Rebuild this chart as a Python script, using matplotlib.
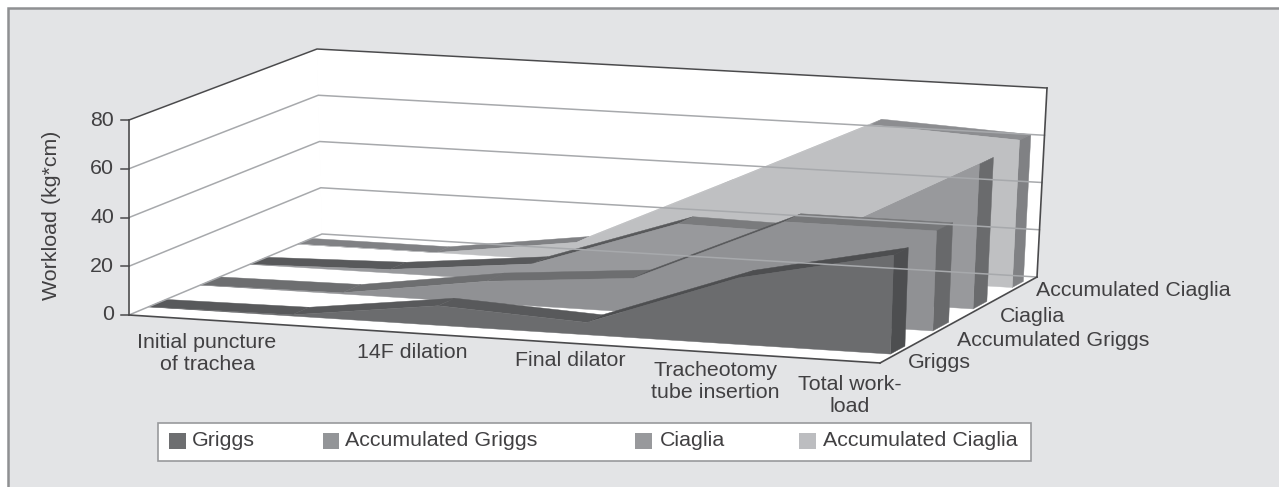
import numpy as np
import matplotlib
matplotlib.use("Agg")
import matplotlib.pyplot as plt
from matplotlib.patches import Polygon, Rectangle

plt.rcParams['font.family'] = ['Liberation Sans', 'DejaVu Sans']

# ---- data ----
series_names = ["Griggs", "Accumulated Griggs", "Ciaglia", "Accumulated Ciaglia"]
griggs = [0, 0.5, 8, 5, 27, 40]
accumulated_griggs = [0, 0.5, 9, 14, 41, 41]
ciaglia = [0, 1.5, 7.5, 28, 27, 60]
accumulated_ciaglia = [0, 0, 8, 36, 65, 62]
category_labels = ["Initial puncture\nof trachea", "14F dilation", "Final dilator",
                   "Tracheotomy\ntube insertion", "Total work-\nload"]
y_ticks = [0, 20, 40, 60, 80]
y_max = 80

# ---- styles / layout ----
BG = "#e3e4e6"
TXT = "#414042"
GRID = "#a7a9ac"
AXC = "#4a4a4c"
face = ["#6b6c6e", "#909194", "#98999c", "#bfc0c2"]
top_segments = [
    ["#58595b", "#58595b", "#58595b", "#4d4e50", "#4d4e50"],
    ["#6d6e70", "#6d6e70", "#6d6e70", "#58595b", "#77787a"],
    ["#58595b", "#58595b", "#58595b", "#7a7b7d", "#98999c"],
    ["#808184", "#808184", "#bfc0c2", "#bfc0c2", "#8c8d90"],
]
side = ["#4d4e50", "#68696b", "#6a6b6d", "#808184"]
legend_col = ["#6d6e70", "#939598", "#98999c", "#bcbdc0"]
FS = 15.4

# projection: corners of the box in pixel space (u along categories, v in depth)
floor_c = np.array([[129, 315], [880, 363], [1037, 277], [322, 234]], float)
ceil_c = np.array([[129, 120], [886, 164], [1047, 88], [317, 49]], float)


def bilinear(c, u, v):
    return (1 - u) * (1 - v) * c[0] + u * (1 - v) * c[1] + u * v * c[2] + (1 - u) * v * c[3]


def proj(u, v, val):
    w = val / y_max
    return (1 - w) * bilinear(floor_c, u, v) + w * bilinear(ceil_c, u, v)


fig = plt.figure(figsize=(12.79, 4.87), dpi=100, facecolor="white")
ax = fig.add_axes([0, 0, 1, 1])
ax.set_xlim(0, 1279)
ax.set_ylim(487, 0)
ax.axis("off")

# panel
ax.add_patch(Rectangle((8, 8), 1290, 500, fc=BG, ec="#8f9092", lw=1.8))

# walls and floor
pf = lambda u, v: proj(u, v, 0)
pc = lambda u, v: proj(u, v, y_max)
for poly in ([pf(0, 0), pf(1, 0), pf(1, 1), pf(0, 1)],
             [pf(0, 0), pf(0, 1), pc(0, 1), pc(0, 0)],
             [pf(0, 1), pf(1, 1), pc(1, 1), pc(0, 1)]):
    ax.add_patch(Polygon(poly, fc="white", ec="white", lw=0.8))

for t in y_ticks:
    a, b, c = proj(0, 0, t), proj(0, 1, t), proj(1, 1, t)
    col = GRID if t != y_max else AXC
    ax.plot([a[0], b[0], c[0]], [a[1], b[1], c[1]], color=col, lw=1.1, solid_joinstyle="miter")
    ax.plot([a[0] - 8, a[0]], [a[1], a[1]], color=AXC, lw=1.1)
    ax.text(a[0] - 15, a[1], str(t), ha="right", va="center", fontsize=FS, color=TXT)

# series, back to front
all_series = [griggs, accumulated_griggs, ciaglia, accumulated_ciaglia]
v_front = [0.10, 0.369, 0.625, 0.874]
v_back = [0.192, 0.47, 0.713, 0.945]
for i in [3, 2, 1, 0]:
    vals = all_series[i]
    n = len(vals)
    s = np.arange(n) / (n - 1)
    us = (s - 0.04 * s * (1 - s)) * 0.993   # slight foreshortening along the axis
    v0, v1 = v_front[i], v_back[i]
    for k in range(n - 1):
        col = top_segments[i][k]
        ax.add_patch(Polygon([proj(us[k], v0, vals[k]), proj(us[k + 1], v0, vals[k + 1]),
                              proj(us[k + 1], v1, vals[k + 1]), proj(us[k], v1, vals[k])],
                             fc=col, ec=col, lw=0.3))
    ax.add_patch(Polygon([proj(us[-1], v0, 0), proj(us[-1], v1, 0),
                          proj(us[-1], v1, vals[-1]), proj(us[-1], v0, vals[-1])],
                         fc=side[i], ec=side[i], lw=0.3))
    outline = [proj(us[0], v0, 0)] + [proj(u, v0, x) for u, x in zip(us, vals)] + [proj(us[-1], v0, 0)]
    ax.add_patch(Polygon(outline, fc=face[i], ec=face[i], lw=0.3))

# axis edges
for p, q in [(proj(0, 0, 0), proj(0, 0, y_max)), (proj(0, 0, 0), proj(1, 0, 0)),
             (proj(1, 0, 0), proj(1, 1, 0)), (proj(1, 1, 0), proj(1, 1, y_max))]:
    ax.plot([p[0], q[0]], [p[1], q[1]], color=AXC, lw=1.2)

# text
ax.text(52, 215, "Workload (kg*cm)", rotation=90, ha="center", va="center", fontsize=FS, color=TXT)
cat_xy = [(207, 353), (412, 352), (570, 361), (715, 381), (850, 395)]
for (x, y), s_ in zip(cat_xy, category_labels):
    ax.text(x, y, s_, ha="center", va="center", fontsize=FS, color=TXT, linespacing=1.2)
ser_xy = [(908, 362), (957, 341), (1000, 317), (1036, 291)]
for (x, y), s_ in zip(ser_xy, series_names):
    ax.text(x, y, s_, ha="left", va="center", fontsize=FS, color=TXT)

# legend
ax.add_patch(Rectangle((157.5, 422.5), 873, 38, fc="white", ec="#98999c", lw=1.2))
sw_x = [169, 322.5, 635, 799]
tx_x = [192, 345, 660, 823]
for sx, tx, c, s_ in zip(sw_x, tx_x, legend_col, series_names):
    ax.add_patch(Rectangle((sx, 433), 16.5, 16, fc=c, ec="none"))
    ax.text(tx, 440.5, s_, ha="left", va="center", fontsize=FS, color=TXT)

fig.savefig("out.png", dpi=100, facecolor="white")
